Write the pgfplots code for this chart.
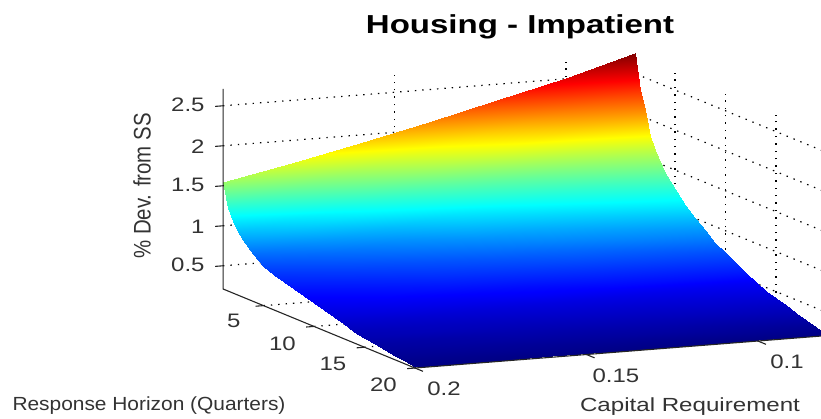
\documentclass[border=0pt]{standalone}
\usepackage{fontspec}
\usepackage{pgfplots}
\pgfplotsset{compat=1.18}
\setmainfont{Liberation Sans}[FakeStretch=1.23]
\newfontfamily\titlefont{Liberation Sans}[FakeStretch=1.27]
\newfontfamily\rlabfont{Liberation Sans}[FakeStretch=1.1]
\newfontfamily\clabfont{Liberation Sans}[FakeStretch=1.27]
\newfontfamily\zlabfont{Liberation Sans}[FakeStretch=0.85]
\begin{document}
\begin{tikzpicture}[x=1pt,y=1pt,
  gridl/.style={black, line width=1.2pt, dash pattern=on 1.4pt off 6pt},
  tickl/.style={black!85, line width=1.1pt}]
\useasboundingbox (0,0) rectangle (821,419);
\clip (0,0) rectangle (821,419);
\begin{axis}[
  at={(524.8pt,206.7pt)},
  anchor=center,
  disabledatascaling,
  x={(10.1pt,-4.16pt)},
  y={(-3430pt,-270pt)},
  z={(0pt,80pt)},
  xmin=1, xmax=20,
  ymin=0.08, ymax=0.2,
  zmin=0.21, zmax=2.71,
  xtick={5,10,15,20},
  ytick={0.1,0.15,0.2},
  yticklabels={0.1,0.15,0.2},
  ztick={0.5,1,1.5,2,2.5},
  zticklabels={0.5,1,1.5,2,2.5},
  clip=false,
  axis line style={draw=none},
  tick align=outside,
  major tick length=8pt,
  tick style={draw=none},
  /pgf/number format/assume math mode=true,
  every tick label/.append style={font=\fontsize{19.5}{20}\selectfont, text=black!80},
  x tick label style={xshift=-12pt,yshift=-4pt},
  y tick label style={xshift=14pt,yshift=-6pt},
  z tick label style={xshift=-7pt,yshift=-2pt},
  colormap/jet,
  point meta min=0.21,
  point meta max=2.76,
]
% walls and floor
\draw[gridl] (axis cs:1,0.2,0.5) -- (axis cs:1,0.08,0.5) -- (axis cs:20,0.08,0.5);
\draw[gridl] (axis cs:1,0.2,1) -- (axis cs:1,0.08,1) -- (axis cs:20,0.08,1);
\draw[gridl] (axis cs:1,0.2,1.5) -- (axis cs:1,0.08,1.5) -- (axis cs:20,0.08,1.5);
\draw[gridl] (axis cs:1,0.2,2) -- (axis cs:1,0.08,2) -- (axis cs:20,0.08,2);
\draw[gridl] (axis cs:1,0.2,2.5) -- (axis cs:1,0.08,2.5) -- (axis cs:20,0.08,2.5);
\draw[gridl] (axis cs:1,0.15,0.21) -- (axis cs:1,0.15,2.71);
\draw[gridl] (axis cs:1,0.1,0.21) -- (axis cs:1,0.1,2.71);
\draw[gridl] (axis cs:5,0.08,0.21) -- (axis cs:5,0.08,2.71);
\draw[gridl] (axis cs:10,0.08,0.21) -- (axis cs:10,0.08,2.71);
\draw[gridl] (axis cs:15,0.08,0.21) -- (axis cs:15,0.08,2.71);
\draw[gridl] (axis cs:5,0.2,0.21) -- (axis cs:5,0.08,0.21);
\draw[gridl] (axis cs:10,0.2,0.21) -- (axis cs:10,0.08,0.21);
\draw[gridl] (axis cs:15,0.2,0.21) -- (axis cs:15,0.08,0.21);
\draw[gridl] (axis cs:1,0.15,0.21) -- (axis cs:20,0.15,0.21);
\draw[gridl] (axis cs:1,0.1,0.21) -- (axis cs:20,0.1,0.21);
\addplot3[surf, shader=interp, mesh/ordering=x varies, mesh/check=false] coordinates {
(1,0.20,1.55) (1,0.18,1.72) (1,0.16,1.90) (1,0.14,2.09) (1,0.12,2.30) (1,0.10,2.51) (1,0.08,2.76)

(1.5,0.20,1.25) (1.5,0.18,1.43) (1.5,0.16,1.61) (1.5,0.14,1.79) (1.5,0.12,1.96) (1.5,0.10,2.14) (1.5,0.08,2.32)

(2,0.20,1.11) (2,0.18,1.28) (2,0.16,1.44) (2,0.14,1.61) (2,0.12,1.77) (2,0.10,1.94) (2,0.08,2.10)

(2.5,0.20,1.00) (2.5,0.18,1.13) (2.5,0.16,1.27) (2.5,0.14,1.40) (2.5,0.12,1.53) (2.5,0.10,1.67) (2.5,0.08,1.80)

(3,0.20,0.93) (3,0.18,1.05) (3,0.16,1.17) (3,0.14,1.29) (3,0.12,1.40) (3,0.10,1.52) (3,0.08,1.64)

(4,0.20,0.80) (4,0.18,0.90) (4,0.16,1.00) (4,0.14,1.11) (4,0.12,1.21) (4,0.10,1.31) (4,0.08,1.41)

(5,0.20,0.71) (5,0.18,0.80) (5,0.16,0.89) (5,0.14,0.99) (5,0.12,1.08) (5,0.10,1.17) (5,0.08,1.26)

(6,0.20,0.65) (6,0.18,0.73) (6,0.16,0.81) (6,0.14,0.89) (6,0.12,0.96) (6,0.10,1.04) (6,0.08,1.12)

(7,0.20,0.61) (7,0.18,0.67) (7,0.16,0.73) (7,0.14,0.80) (7,0.12,0.87) (7,0.10,0.93) (7,0.08,1.00)

(8,0.20,0.57) (8,0.18,0.62) (8,0.16,0.68) (8,0.14,0.74) (8,0.12,0.79) (8,0.10,0.85) (8,0.08,0.90)

(9,0.20,0.535) (9,0.18,0.58) (9,0.16,0.63) (9,0.14,0.68) (9,0.12,0.72) (9,0.10,0.76) (9,0.08,0.80)

(10,0.20,0.50) (10,0.18,0.54) (10,0.16,0.58) (10,0.14,0.62) (10,0.12,0.65) (10,0.10,0.69) (10,0.08,0.72)

(11,0.20,0.465) (11,0.18,0.50) (11,0.16,0.53) (11,0.14,0.56) (11,0.12,0.59) (11,0.10,0.62) (11,0.08,0.65)

(12,0.20,0.43) (12,0.18,0.46) (12,0.16,0.48) (12,0.14,0.51) (12,0.12,0.53) (12,0.10,0.56) (12,0.08,0.58)

(13,0.20,0.39) (13,0.18,0.41) (13,0.16,0.43) (13,0.14,0.45) (13,0.12,0.47) (13,0.10,0.49) (13,0.08,0.51)

(14,0.20,0.35) (14,0.18,0.37) (14,0.16,0.39) (14,0.14,0.41) (14,0.12,0.42) (14,0.10,0.44) (14,0.08,0.46)

(15,0.20,0.33) (15,0.18,0.35) (15,0.16,0.36) (15,0.14,0.38) (15,0.12,0.39) (15,0.10,0.41) (15,0.08,0.42)

(16,0.20,0.30) (16,0.18,0.31) (16,0.16,0.33) (16,0.14,0.34) (16,0.12,0.35) (16,0.10,0.37) (16,0.08,0.38)

(17,0.20,0.28) (17,0.18,0.29) (17,0.16,0.30) (17,0.14,0.31) (17,0.12,0.32) (17,0.10,0.33) (17,0.08,0.34)

(18,0.20,0.26) (18,0.18,0.27) (18,0.16,0.27) (18,0.14,0.28) (18,0.12,0.29) (18,0.10,0.29) (18,0.08,0.30)

(19,0.20,0.24) (19,0.18,0.24) (19,0.16,0.25) (19,0.14,0.25) (19,0.12,0.25) (19,0.10,0.26) (19,0.08,0.26)

(20,0.20,0.22) (20,0.18,0.22) (20,0.16,0.22) (20,0.14,0.22) (20,0.12,0.22) (20,0.10,0.22) (20,0.08,0.22)
};
% axis lines and tick marks
\draw[tickl] (axis cs:1,0.2,2.71) -- (axis cs:1,0.2,0.21) -- (axis cs:20,0.2,0.21) -- (axis cs:20,0.08,0.21);
\draw[tickl] (axis cs:1,0.2,0.5) -- (axis cs:1,0.2023,0.5);
\draw[tickl] (axis cs:1,0.2,1) -- (axis cs:1,0.2023,1);
\draw[tickl] (axis cs:1,0.2,1.5) -- (axis cs:1,0.2023,1.5);
\draw[tickl] (axis cs:1,0.2,2) -- (axis cs:1,0.2023,2);
\draw[tickl] (axis cs:1,0.2,2.5) -- (axis cs:1,0.2023,2.5);
\draw[tickl] (axis cs:5,0.2,0.21) -- (axis cs:5,0.2023,0.21);
\draw[tickl] (axis cs:10,0.2,0.21) -- (axis cs:10,0.2023,0.21);
\draw[tickl] (axis cs:15,0.2,0.21) -- (axis cs:15,0.2023,0.21);
\draw[tickl] (axis cs:20,0.2,0.21) -- (axis cs:20,0.2023,0.21);
\draw[tickl] (axis cs:20,0.2,0.21) -- (axis cs:20.8,0.2,0.21);
\draw[tickl] (axis cs:20,0.15,0.21) -- (axis cs:20.8,0.15,0.21);
\draw[tickl] (axis cs:20,0.1,0.21) -- (axis cs:20.8,0.1,0.21);
\end{axis}
\node[font=\titlefont\bfseries\fontsize{26}{28}\selectfont] at (520,392) {Housing - Impatient};
\node[font=\rlabfont\fontsize{19}{20}\selectfont, text=black!80] at (149,13) {Response Horizon (Quarters)};
\node[font=\clabfont\fontsize{19}{20}\selectfont, text=black!80] at (690,12) {Capital Requirement};
\node[font=\zlabfont\fontsize{24}{24}\selectfont, text=black!80, rotate=90] at (142,233) {\% Dev. from SS};
\end{tikzpicture}
\end{document}
